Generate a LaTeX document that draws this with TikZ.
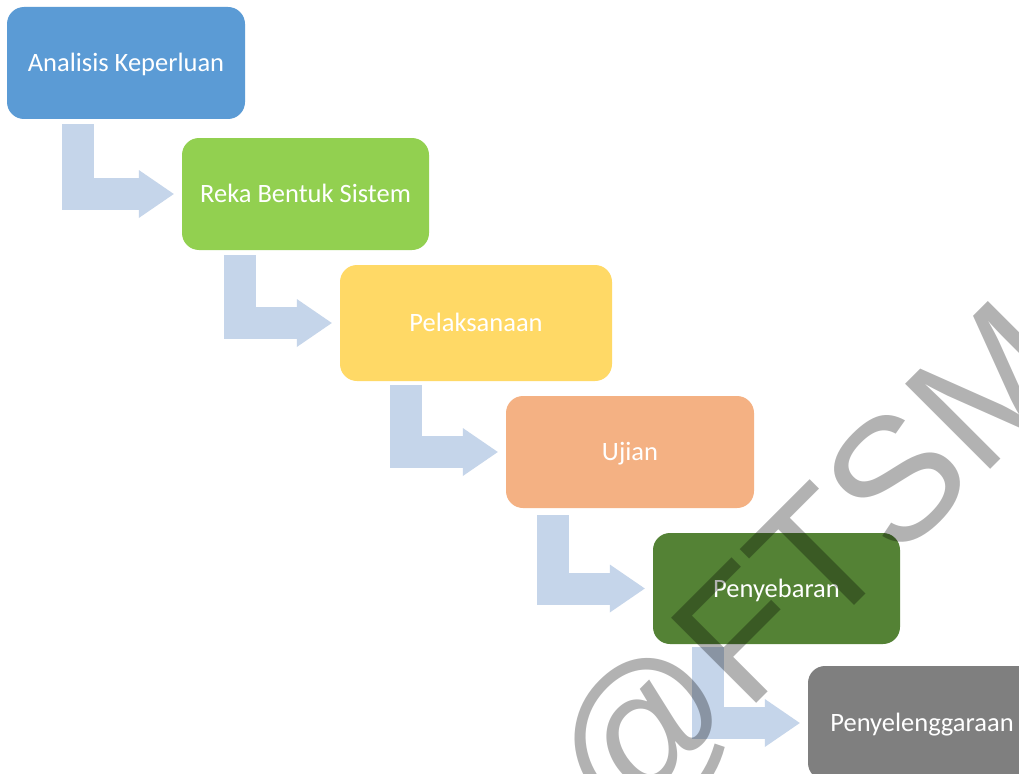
\documentclass[tikz,border=0pt]{standalone}
\usepackage{fontspec}
\setmainfont{Carlito}
\newfontfamily\wmfont{Liberation Sans}
\usetikzlibrary{arrows.meta,calc}
\definecolor{cA}{HTML}{5B9BD5}
\definecolor{cB}{HTML}{92D050}
\definecolor{cC}{HTML}{FFD966}
\definecolor{cD}{HTML}{F4B183}
\definecolor{cE}{HTML}{548235}
\definecolor{cF}{HTML}{7F7F7F}
\definecolor{arrowblue}{HTML}{C5D5EA}
\begin{document}
\begin{tikzpicture}[x=1pt,y=-1pt,
  stage/.style={rounded corners=17pt, inner sep=0pt, text=white,
    text height=17pt, text depth=0pt,
    font=\fontsize{26.5}{30}\selectfont},
  flow/.style={draw=arrowblue, line width=32pt, line join=miter,
    -{Triangle[length=35pt,width=48pt,line width=0pt]}, shorten >=8pt},
  wmstyle/.style={rotate=45, anchor=base west, inner sep=0pt, text=black,
    text opacity=0.3, font=\wmfont\fontsize{175}{175}\selectfont}]
\useasboundingbox (0,0) rectangle (1019,773);
\clip (0,0) rectangle (1019,773);
\fill[white] (0,0) rectangle (1019,773);
\node[stage, fill=cA, minimum width=238pt, minimum height=112pt] (a) at (126,63) {Analisis Keperluan};
\node[stage, fill=cB, minimum width=247pt, minimum height=112pt] (b) at (305.5,194) {Reka Bentuk Sistem};
\node[stage, fill=cC, minimum width=272pt, minimum height=116pt] (c) at (476,323) {Pelaksanaan};
\node[stage, fill=cD, minimum width=248pt, minimum height=112pt] (d) at (630,452) {Ujian};
\node[stage, fill=cE, minimum width=247pt, minimum height=111pt] (e) at (776.5,588.5) {Penyebaran};
\node[stage, fill=cF, minimum width=228pt, minimum height=114pt] (f) at (922,723) {Penyelenggaraan};
\draw[flow] ($(a.south west)+(71,5)$) |- (b.west);
\draw[flow] ($(b.south west)+(58,5)$) |- (c.west);
\draw[flow] ($(c.south west)+(66,4)$) |- (d.west);
\draw[flow] ($(d.south west)+(47,7)$) |- (e.west);
\draw[flow] ($(e.south west)+(55.5,3)$) |- (f.west);
\node[wmstyle] (wm) at (621,839) {@FTSM};
\end{tikzpicture}
\end{document}
